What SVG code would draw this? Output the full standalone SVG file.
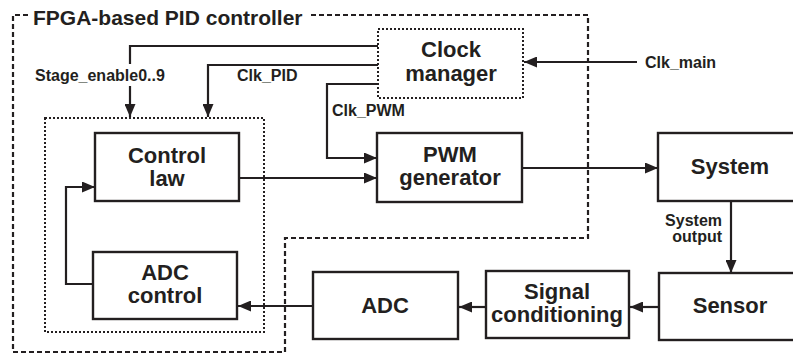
<svg xmlns="http://www.w3.org/2000/svg" width="793" height="354" viewBox="0 0 793 354">
  <defs>
    <marker id="arrow" viewBox="0 0 13 11" refX="13" refY="5.5" markerWidth="13" markerHeight="11" markerUnits="userSpaceOnUse" orient="auto">
      <path d="M0,0 L13,5.5 L0,11 Z" fill="#231f20"/>
    </marker>
    <style>
      text { font-family: "Liberation Sans", Arial, sans-serif; font-weight: bold; fill: #231f20; }
      .box { fill: #fff; stroke: #231f20; stroke-width: 2.4; }
      .dotted { fill: none; stroke: #231f20; stroke-width: 2; stroke-dasharray: 2 2; }
      .dashed { fill: none; stroke: #231f20; stroke-width: 2.2; stroke-dasharray: 5 3; }
      .wire { fill: none; stroke: #231f20; stroke-width: 2.2; }
      .arr { marker-end: url(#arrow); }
      .lbl { font-size: 22px; text-anchor: middle; }
      .sig { font-size: 16px; }
    </style>
  </defs>
  <rect width="793" height="354" fill="#fff"/>

  <!-- FPGA boundary -->
  <g id="fpga">
    <path class="dashed" d="M28,15 H13 V352 H285 V238 H588 V15 H310"/>
    <text x="33" y="25" font-size="21">FPGA-based PID controller</text>
  </g>

  <!-- controller core (dotted) -->
  <rect id="core" class="dotted" x="45" y="118" width="219" height="214"/>

  <!-- connectors -->
  <g id="connectors">
    <path class="wire" d="M378,46 H130 V64"/>
    <path class="wire arr" d="M130,86 V117"/>
    <path class="wire arr" d="M378,65 H208 V117"/>
    <path class="wire arr" d="M378,84 H327 V158 H377"/>
    <path class="wire arr" d="M637,62 H524"/>
    <path class="wire arr" d="M240,178 H377"/>
    <path class="wire arr" d="M523,168 H658"/>
    <path class="wire arr" d="M731,201 V273"/>
    <path class="wire arr" d="M659,307 H630"/>
    <path class="wire arr" d="M486,307 H459"/>
    <path class="wire arr" d="M313,306 H238"/>
    <path class="wire arr" d="M93,284 H66 V187 H95"/>
    <text class="sig" x="35" y="81">Stage_enable0..9</text>
    <text class="sig" x="237" y="81">Clk_PID</text>
    <text class="sig" x="332" y="116">Clk_PWM</text>
    <text class="sig" x="645" y="68">Clk_main</text>
    <text class="sig" x="722" y="226" text-anchor="end">System</text>
    <text class="sig" x="722" y="242" text-anchor="end">output</text>
  </g>

  <g id="clock-manager">
    <rect class="dotted" x="378" y="29" width="145" height="69"/>
    <text class="lbl" x="451" y="57">Clock</text>
    <text class="lbl" x="451" y="81">manager</text>
  </g>

  <g id="control-law">
    <rect class="box" x="95" y="133" width="144" height="68"/>
    <text class="lbl" x="167" y="163">Control</text>
    <text class="lbl" x="167" y="186">law</text>
  </g>

  <g id="pwm-generator">
    <rect class="box" x="377" y="133" width="145" height="69"/>
    <text class="lbl" x="450" y="162">PWM</text>
    <text class="lbl" x="450" y="185">generator</text>
  </g>

  <g id="system">
    <rect class="box" x="658" y="133" width="140" height="68"/>
    <text class="lbl" x="730" y="174">System</text>
  </g>

  <g id="adc-control">
    <rect class="box" x="93" y="252" width="144" height="67"/>
    <text class="lbl" x="165" y="280">ADC</text>
    <text class="lbl" x="165" y="303">control</text>
  </g>

  <g id="adc">
    <rect class="box" x="313" y="272" width="145" height="67"/>
    <text class="lbl" x="385" y="313">ADC</text>
  </g>

  <g id="signal-conditioning">
    <rect class="box" x="486" y="271" width="143" height="67"/>
    <text class="lbl" x="557" y="299">Signal</text>
    <text class="lbl" x="557" y="322">conditioning</text>
  </g>

  <g id="sensor">
    <rect class="box" x="659" y="273" width="140" height="67"/>
    <text class="lbl" x="730" y="313">Sensor</text>
  </g>
</svg>
